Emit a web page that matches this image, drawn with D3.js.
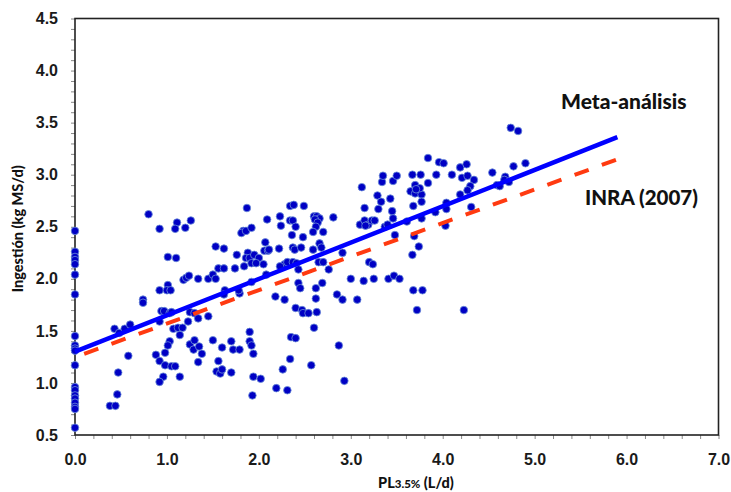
<!DOCTYPE html>
<html>
<head>
<meta charset="utf-8">
<script src="https://cdn.jsdelivr.net/npm/d3@7"></script>
<style>
	body { margin: 0; background: #fff; }
	svg { display: block; font-family: Lato, "Open Sans", sans-serif; font-weight: bold; }
	.tick line { stroke: #888; stroke-width: 1; }
	.tick text { fill: #1a1a1a; font-size: 16px; font-weight: 900; }
	.domain { stroke: none; }
</style>
</head>
<body>
<svg id="chart" width="731" height="492"></svg>
<script>

// observed points: PL 3.5% (L/d) vs ingestion (kg MS/d)
var zeroMilkIntake = [2.46, 2.26, 2.21, 2.18, 2.14, 2.04, 1.85, 1.45, 1.36, 1.33, 1.31, 1.17,
	0.96, 0.93, 0.88, 0.85, 0.81, 0.77, 0.75, 0.57];

var milk = [
	0.43, 0.48, 0.54, 0.60, 0.58, 0.47, 0.46, 0.38, 0.44,
	0.74, 0.74, 0.92, 1.01, 1.00, 1.04, 0.94, 0.97, 1.03, 1.05, 0.92,
	1.07, 1.12, 1.17, 1.14, 1.23, 1.25, 1.30, 1.34, 1.45,
	1.18, 1.21, 1.24, 1.34, 1.45, 1.50, 1.53,
	1.03, 1.01, 0.98, 0.88, 0.92, 0.98, 1.05, 1.09, 1.14, 0.96, 0.92,
	1.25, 1.30, 1.29, 1.35, 1.38, 1.34,
	1.50, 1.60, 1.56, 1.54, 1.58, 1.60, 1.63, 1.62,
	0.80, 0.92, 1.11, 1.09, 1.20, 1.26, 1.53, 1.62, 1.01, 1.10, 1.56, 1.62,
	1.87, 1.83, 1.81, 1.86, 1.92, 2.09, 2.07, 1.76,
	1.88, 1.86, 1.90, 1.95, 2.00, 1.92, 1.97, 2.05, 2.06, 2.10, 2.11,
	1.74, 1.84,
	2.23, 2.24, 2.34, 2.38, 2.49, 2.34, 2.37, 2.40, 2.36, 2.48, 2.22,
	2.37, 2.39, 2.46,
	2.28, 2.31, 2.37, 2.41, 2.43, 2.23,
	2.60, 2.63, 2.66, 2.61, 2.64, 2.81,
	2.62, 2.59, 2.70, 2.66, 2.68, 2.59,
	2.65, 2.70, 2.76, 2.91,
	3.12, 3.15, 3.29, 3.34, 3.35, 3.30, 3.33,
	3.10, 3.15, 3.19, 3.23, 3.26, 3.16,
	3.20, 3.24,
	4.74, 4.82, 4.90, 4.77, 4.68, 4.67, 4.72, 4.59, 4.62, 4.54,
	3.84, 3.96, 4.01, 4.19, 4.26, 4.10, 4.21, 4.27, 4.34, 4.30, 4.27,
	3.46, 3.50, 3.67, 3.76, 3.93, 3.84, 3.70, 3.74, 3.65, 3.70, 3.77, 3.75, 3.71, 3.43, 3.77, 3.68, 3.45, 3.46,
	4.19, 4.04, 4.04, 3.92, 3.77, 4.31, 4.03, 3.69, 3.74, 3.67, 3.48, 3.37, 3.40, 3.61,
	1.79, 1.78, 1.92, 2.08, 2.18, 2.28, 2.43, 2.45,
	2.40, 2.47, 2.48, 2.54, 2.63, 2.62, 2.62, 2.69, 2.60,
	2.85, 2.91, 3.07, 3.00, 3.14, 3.25, 2.87, 2.93, 2.57,
	2.35, 2.40, 2.34, 2.26, 2.31, 2.19,
	1.90, 1.90, 1.92, 1.94, 1.70, 1.72, 1.79, 1.70, 1.94, 2.02, 1.93,
	3.41, 3.47, 3.53, 3.68, 3.78, 3.72, 4.23
];

var intake = [
	1.52, 1.48, 1.52, 1.56, 1.26, 1.10, 0.89, 0.78, 0.78,
	1.80, 1.77, 1.89, 1.94, 1.89, 1.89, 1.69, 1.69, 1.67, 1.68, 1.59,
	1.52, 1.53, 1.53, 1.46, 1.59, 1.68, 1.67, 1.62, 1.64,
	1.99, 2.01, 2.03, 2.00, 2.00, 2.04, 2.00,
	1.40, 1.36, 1.29, 1.27, 1.21, 1.17, 1.16, 1.16, 1.06, 1.06, 1.01,
	1.37, 1.41, 1.32, 1.35, 1.28, 1.20,
	1.41, 1.34, 1.21, 1.11, 1.09, 1.13, 1.89, 1.85,
	2.62, 2.48, 2.54, 2.48, 2.49, 2.56, 2.31, 2.29, 2.21, 2.20, 2.10, 2.10,
	2.68, 2.46, 2.44, 2.46, 2.49, 2.57, 2.35, 2.23,
	2.25, 2.20, 2.20, 2.23, 2.20, 2.15, 2.15, 2.14, 2.27, 2.27, 2.28,
	2.10, 2.12,
	2.60, 2.51, 2.70, 2.71, 2.70, 2.56, 2.56, 2.50, 2.42, 2.40, 2.29,
	2.30, 2.28, 2.30,
	2.14, 2.16, 2.16, 2.15, 2.09, 2.12,
	2.60, 2.60, 2.58, 2.57, 2.54, 2.59,
	2.50, 2.45, 2.45, 2.34, 2.30, 2.28,
	2.16, 2.16, 2.09, 2.25,
	2.88, 2.68, 2.80, 2.93, 2.99, 2.67, 2.74,
	2.52, 2.56, 2.52, 2.56, 2.56, 2.51,
	2.16, 2.14,
	3.45, 3.42, 3.11, 3.08, 2.98, 2.95, 2.93, 2.90, 2.89, 3.02,
	3.16, 3.12, 3.11, 3.07, 3.10, 3.00, 2.97, 2.99, 2.95, 2.89, 2.85,
	2.94, 2.99, 3.00, 3.00, 3.00, 2.92, 2.90, 2.85, 2.84, 2.82, 2.81, 2.87, 2.86, 2.77, 2.74, 2.70, 2.65, 2.58,
	2.81, 2.73, 2.67, 2.64, 2.58, 2.69, 2.51, 2.41, 2.31, 2.23, 2.42, 2.50, 2.52, 2.55,
	1.86, 1.89, 1.97, 2.04, 1.83, 1.80, 1.96, 1.91,
	1.72, 1.70, 1.67, 1.67, 1.68, 1.81, 1.91, 1.96, 1.53,
	1.85, 1.80, 1.80, 2.00, 1.98, 2.00, 1.36, 1.02, 1.17,
	1.44, 1.43, 1.23, 1.13, 0.93, 0.95,
	1.49, 1.40, 1.36, 1.28, 1.40, 1.32, 1.32, 1.10, 1.06, 1.04, 0.88,
	2.00, 2.03, 2.00, 1.89, 1.89, 1.70, 1.70
];

// fitted lines, end points [x, y]
var metaLine = [[0, 1.30], [5.9, 3.36]];
var inraLine = [[0.1, 1.28], [6.0, 3.18]];

var xMajor = [0, 1, 2, 3, 4, 5, 6, 7];
var yMajor = [0.5, 1.0, 1.5, 2.0, 2.5, 3.0, 3.5, 4.0, 4.5];

var xLeft = 75,
	xRight = 718.5,
	yTop = 18.5,
	yBottom = 435;

var points = zeroMilkIntake.map(function (v) { return {x: 0, y: v}; })
	.concat(milk.map(function (v, i) { return {x: v, y: intake[i]}; }));

var svg = d3.select("#chart");

var x = d3.scaleLinear().domain([0, 7]).range([xLeft, xRight]);
var y = d3.scaleLinear().domain([0.5, 4.5]).range([yBottom, yTop]);

function isMajor(list, v) {
	return list.some(function (m) { return Math.abs(m - v) < 1e-6; });
}

svg.append("g")
	.attr("transform", "translate(0," + yBottom + ")")
	.call(d3.axisBottom(x)
		.tickValues(d3.range(0, 7.001, 0.2))
		.tickSize(4)
		.tickPadding(15)
		.tickFormat(function (d) { return isMajor(xMajor, d) ? d3.format(".1f")(d) : ""; }));

svg.append("g")
	.attr("transform", "translate(" + xLeft + ",0)")
	.call(d3.axisLeft(y)
		.tickValues(d3.range(0.5, 4.501, 0.1))
		.tickSize(4)
		.tickPadding(13)
		.tickFormat(function (d) { return isMajor(yMajor, d) ? d3.format(".1f")(d) : ""; }));

// plot frame
svg.append("rect")
	.attr("x", xLeft)
	.attr("y", yTop)
	.attr("width", xRight - xLeft)
	.attr("height", yBottom - yTop)
	.attr("fill", "none")
	.attr("stroke", "#222")
	.attr("stroke-width", 1.6);

svg.append("g")
	.selectAll("circle")
	.data(points)
	.enter()
	.append("circle")
	.attr("cx", function (d) { return x(d.x); })
	.attr("cy", function (d) { return y(d.y); })
	.attr("r", 3.8)
	.attr("fill", "#0000c4")
	.attr("stroke", "#6d8fd8")
	.attr("stroke-width", 0.8);

var line = d3.line()
	.x(function (d) { return x(d[0]); })
	.y(function (d) { return y(d[1]); });

svg.append("path")
	.attr("d", line(inraLine))
	.attr("fill", "none")
	.attr("stroke", "#ff3a10")
	.attr("stroke-width", 4)
	.attr("stroke-dasharray", "15,14");

svg.append("path")
	.attr("d", line(metaLine))
	.attr("fill", "none")
	.attr("stroke", "#0000ff")
	.attr("stroke-width", 4.5);

svg.append("text")
	.attr("x", 561)
	.attr("y", 109)
	.attr("font-size", 21)
	.attr("font-weight", 900)
	.attr("fill", "#111")
	.text("Meta-análisis");

svg.append("text")
	.attr("x", 585)
	.attr("y", 205)
	.attr("font-size", 20.5)
	.attr("font-weight", 900)
	.attr("fill", "#111")
	.text("INRA (2007)");

svg.append("text")
	.attr("transform", "translate(23," + ((yTop + yBottom) / 2 + 2) + ") rotate(-90)")
	.attr("text-anchor", "middle")
	.attr("font-size", 14.5)
	.attr("font-weight", 900)
	.attr("fill", "#111")
	.text("Ingestión (kg MS/d)");

var xTitle = svg.append("text")
	.attr("x", 416)
	.attr("y", 488)
	.attr("text-anchor", "middle")
	.attr("font-size", 14.5)
	.attr("font-weight", 900)
	.attr("fill", "#111");
xTitle.append("tspan").text("PL");
xTitle.append("tspan").attr("font-size", 11.5).text("3.5%");
xTitle.append("tspan").text(" (L/d)");

</script>
</body>
</html>
